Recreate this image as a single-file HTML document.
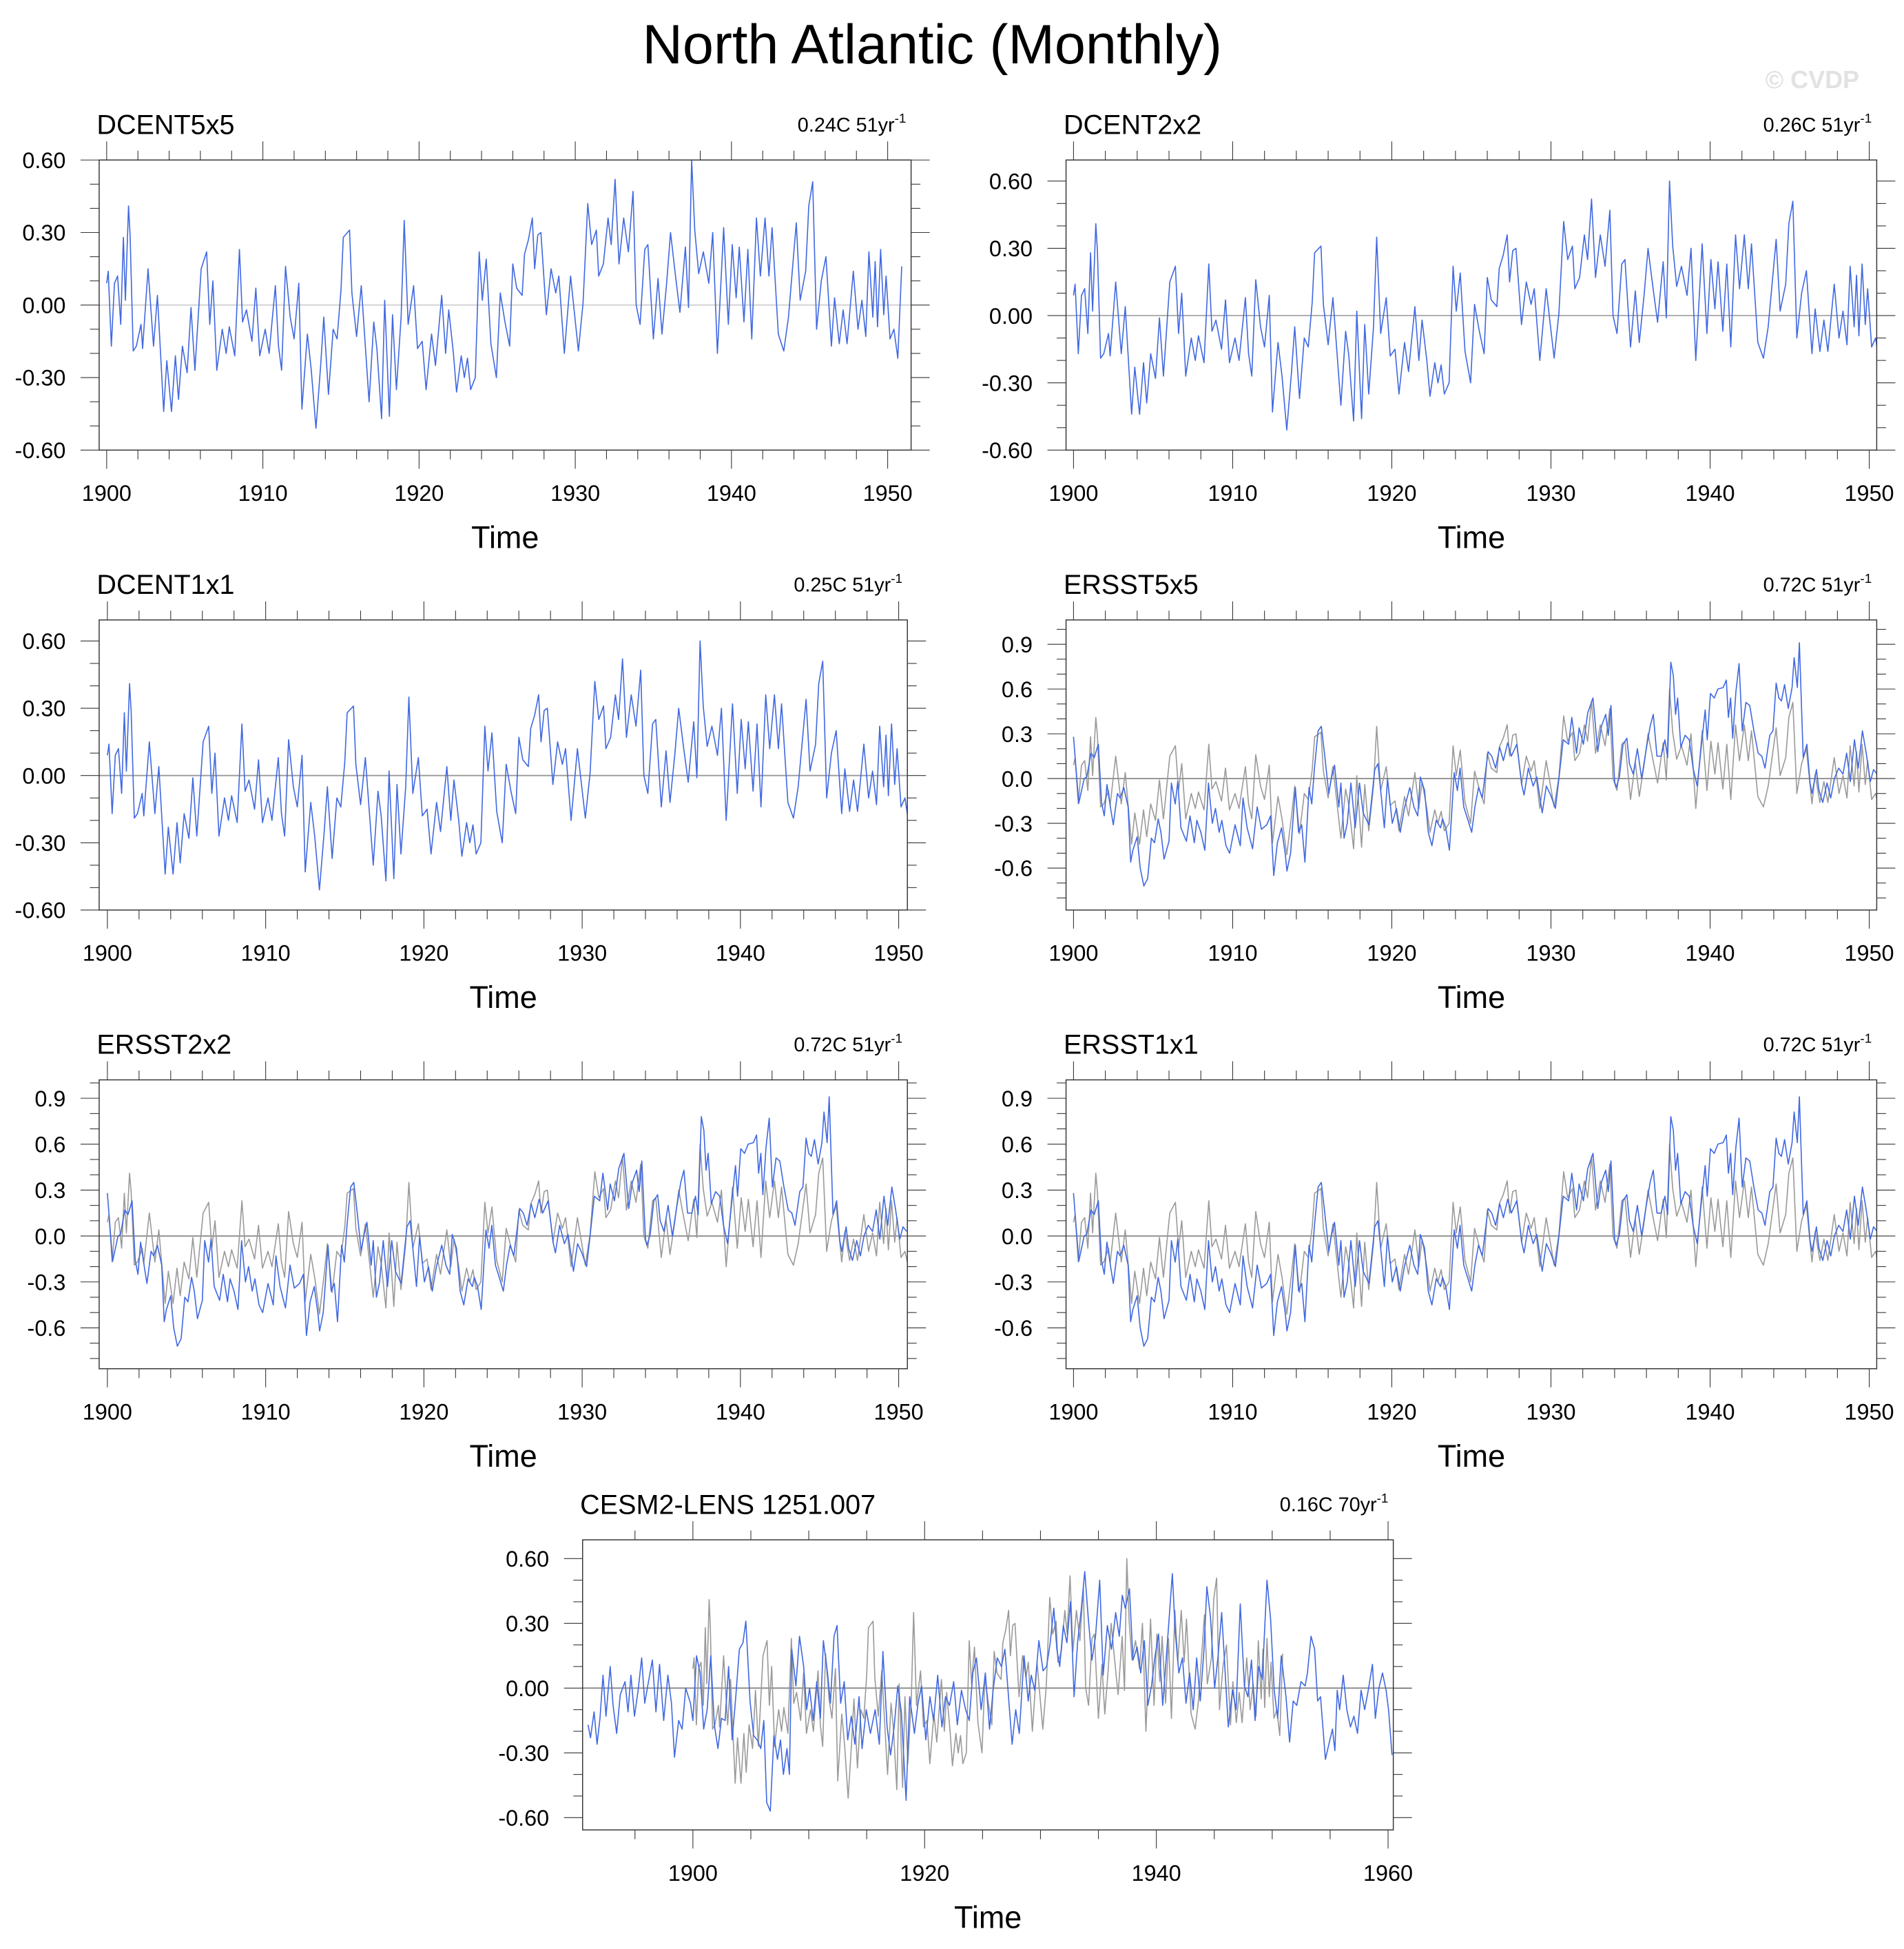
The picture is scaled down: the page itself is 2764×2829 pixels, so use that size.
<!DOCTYPE html>
<html><head><meta charset="utf-8"><title>North Atlantic (Monthly)</title>
<style>
html,body{margin:0;padding:0;background:#fff;}
svg{display:block;font-family:"Liberation Sans",Arial,sans-serif;}
</style></head>
<body>
<svg id="fig" xmlns="http://www.w3.org/2000/svg" width="2764" height="2829" viewBox="0 0 1536 1572">
<rect x="0" y="0" width="1536" height="1572" fill="#fff"/>
<text x="752" y="51" font-size="45" text-anchor="middle" fill="#000">North Atlantic (Monthly)</text>
<text x="1462" y="71" font-size="20" font-weight="bold" text-anchor="middle" fill="#e2e2e2">© CVDP</text>
<g id="panels"></g>
</svg>
<script>
// DCENT observed series (decimal year, anomaly degC)
const dcentYears = [1900.0,1900.1,1900.3,1900.5,1900.7,1900.9,1901.07,1901.2,1901.4,1901.5,
1901.7,1901.9,1902.2,1902.3,1902.65,1903.0,1903.25,1903.45,1903.65,1903.85,
1904.15,1904.4,1904.6,1904.85,1905.15,1905.4,1905.65,1906.05,1906.4,1906.6,
1906.8,1907.05,1907.4,1907.65,1907.85,1908.2,1908.5,1908.7,1908.95,1909.3,
1909.55,1909.8,1910.15,1910.4,1910.8,1911.0,1911.2,1911.45,1911.75,1912.0,
1912.3,1912.5,1912.85,1913.1,1913.4,1913.7,1913.9,1914.2,1914.5,1914.75,
1915.0,1915.15,1915.55,1915.7,1916.0,1916.3,1916.55,1916.8,1917.1,1917.3,
1917.6,1917.8,1918.1,1918.3,1918.55,1918.85,1919.05,1919.3,1919.65,1919.9,
1920.2,1920.45,1920.8,1921.05,1921.45,1921.7,1921.9,1922.2,1922.4,1922.7,
1922.9,1923.1,1923.3,1923.6,1923.85,1924.05,1924.3,1924.6,1924.95,1925.2,
1925.5,1925.8,1926.0,1926.25,1926.6,1926.75,1927.0,1927.25,1927.4,1927.6,
1927.8,1928.15,1928.45,1928.75,1928.95,1929.3,1929.7,1930.2,1930.5,1930.8,
1931.05,1931.35,1931.5,1931.8,1932.1,1932.3,1932.55,1932.8,1933.1,1933.4,
1933.7,1933.9,1934.15,1934.45,1934.65,1935.0,1935.3,1935.55,1935.85,1936.1,
1936.4,1936.7,1937.05,1937.25,1937.45,1937.65,1937.9,1938.2,1938.55,1938.8,
1939.1,1939.5,1939.8,1940.05,1940.3,1940.5,1940.8,1941.05,1941.3,1941.6,
1941.85,1942.15,1942.4,1942.6,1943.0,1943.35,1943.65,1944.15,1944.4,1944.75,
1944.95,1945.2,1945.45,1945.75,1946.05,1946.4,1946.6,1946.9,1947.15,1947.4,
1947.8,1948.1,1948.35,1948.6,1948.8,1949.05,1949.2,1949.35,1949.55,1949.75,
1949.9,1950.15,1950.4,1950.65,1950.9];
const dcentValues = [0.09,0.14,-0.17,0.09,0.12,-0.08,0.28,0.02,0.41,0.29,
-0.19,-0.17,-0.08,-0.18,0.15,-0.17,0.04,-0.2,-0.44,-0.23,
-0.44,-0.21,-0.39,-0.17,-0.28,-0.01,-0.27,0.15,0.22,-0.08,
0.10,-0.27,-0.10,-0.20,-0.09,-0.21,0.23,-0.07,-0.02,-0.15,
0.07,-0.21,-0.10,-0.20,0.08,-0.17,-0.27,0.16,-0.05,-0.14,
0.09,-0.43,-0.12,-0.27,-0.51,-0.25,-0.05,-0.37,-0.10,-0.14,
0.06,0.28,0.31,0.05,-0.13,0.08,-0.16,-0.40,-0.07,-0.18,
-0.47,0.02,-0.46,-0.04,-0.35,-0.05,0.35,-0.08,0.08,-0.18,
-0.15,-0.35,-0.12,-0.25,0.04,-0.20,-0.02,-0.20,-0.36,-0.21,
-0.30,-0.22,-0.35,-0.30,0.22,0.02,0.19,-0.16,-0.30,0.05,
-0.07,-0.17,0.17,0.07,0.04,0.21,0.27,0.36,0.15,0.29,
0.30,-0.04,0.15,0.05,0.12,-0.20,0.12,-0.19,0.01,0.42,
0.25,0.31,0.12,0.17,0.36,0.25,0.52,0.17,0.36,0.22,
0.47,0.00,-0.08,0.23,0.25,-0.14,0.11,-0.12,0.09,0.30,
0.13,-0.03,0.24,-0.01,0.60,0.31,0.13,0.22,0.09,0.30,
-0.20,0.32,-0.08,0.25,0.03,0.24,-0.07,0.23,-0.14,0.36,
0.12,0.36,0.12,0.32,-0.12,-0.19,-0.05,0.34,0.02,0.14,
0.41,0.51,-0.10,0.10,0.20,-0.17,0.03,-0.16,-0.02,-0.16,
0.14,-0.10,0.02,-0.13,0.22,-0.05,0.18,-0.09,0.23,-0.04,
0.12,-0.14,-0.10,-0.22,0.16];

// ERSST observed series
const ersstYears = [1900.0,1900.33,1900.67,1900.83,1901.1,1901.3,1901.56,1901.76,1901.93,1902.1,
1902.33,1902.5,1902.76,1902.93,1903.16,1903.43,1903.59,1903.73,1904.0,1904.19,
1904.42,1904.66,1904.89,1905.09,1905.32,1905.49,1905.69,1906.0,1906.15,1906.39,
1906.55,1906.75,1907.09,1907.32,1907.59,1907.75,1908.0,1908.25,1908.48,1908.72,
1908.92,1909.15,1909.32,1909.58,1909.81,1910.15,1910.48,1910.65,1910.91,1911.25,
1911.54,1911.81,1912.14,1912.38,1912.58,1912.81,1913.07,1913.31,1913.41,1913.64,
1913.94,1914.14,1914.34,1914.54,1914.8,1914.97,1915.14,1915.37,1915.57,1915.8,
1916.04,1916.2,1916.4,1916.67,1916.8,1917.0,1917.2,1917.43,1917.7,1917.97,
1918.2,1918.56,1918.93,1919.13,1919.33,1919.53,1919.73,1920.03,1920.29,1920.53,
1920.79,1921.13,1921.39,1921.63,1921.79,1922.06,1922.29,1922.52,1922.79,1923.06,
1923.19,1923.39,1923.62,1923.92,1924.12,1924.29,1924.52,1924.79,1925.02,1925.22,
1925.45,1925.68,1926.05,1926.28,1926.52,1926.78,1927.01,1927.28,1927.51,1927.85,
1928.18,1928.31,1928.58,1928.88,1929.11,1929.45,1929.71,1929.98,1930.28,1930.51,
1930.77,1931.11,1931.31,1931.61,1931.77,1932.04,1932.31,1932.64,1932.94,1933.17,
1933.44,1933.6,1933.77,1934.0,1934.1,1934.3,1934.53,1934.77,1934.93,1935.17,
1935.43,1935.7,1935.96,1936.23,1936.43,1936.66,1936.93,1937.16,1937.33,1937.53,
1937.69,1937.83,1937.96,1938.16,1938.43,1938.69,1938.93,1939.19,1939.49,1939.69,
1939.82,1940.02,1940.26,1940.49,1940.82,1941.02,1941.15,1941.29,1941.42,1941.62,
1941.82,1942.02,1942.25,1942.49,1942.75,1943.02,1943.25,1943.45,1943.75,1943.95,
1944.15,1944.32,1944.48,1944.68,1944.91,1945.15,1945.28,1945.48,1945.61,1945.85,
1946.08,1946.28,1946.41,1946.68,1946.84,1947.08,1947.35,1947.58,1947.81,1948.08,
1948.35,1948.58,1948.81,1949.07,1949.31,1949.57,1949.81,1950.07,1950.27,1950.5];
const ersstValues = [0.28,-0.165,0,0.01,0.17,0.14,0.23,-0.16,-0.25,-0.04,
-0.2,-0.31,-0.1,-0.13,-0.06,-0.19,-0.56,-0.48,-0.39,-0.6,
-0.72,-0.67,-0.4,-0.43,-0.27,-0.36,-0.54,-0.42,-0.03,-0.17,
-0.02,-0.33,-0.42,-0.25,-0.43,-0.28,-0.36,-0.48,-0.03,-0.3,
-0.2,-0.36,-0.28,-0.45,-0.5,-0.31,-0.45,-0.13,-0.33,-0.47,
-0.19,-0.34,-0.31,-0.25,-0.65,-0.43,-0.33,-0.51,-0.62,-0.5,
-0.06,-0.36,-0.31,-0.56,-0.06,-0.17,0.07,0.32,0.35,0.14,
-0.1,0,0.09,-0.19,-0.03,-0.4,-0.3,-0.03,-0.33,-0.03,
-0.23,-0.31,0.06,0.1,-0.11,-0.33,0,-0.3,-0.2,-0.36,
-0.2,-0.06,-0.19,-0.25,0.01,-0.08,-0.36,-0.45,-0.28,-0.33,
-0.27,-0.33,-0.48,0.04,-0.08,0.07,-0.19,-0.28,-0.36,-0.19,
-0.06,-0.13,0.18,0.15,0.07,0.21,0.12,0.24,0.15,0.23,
-0.05,-0.11,0.07,-0.05,0.01,-0.23,-0.05,-0.11,-0.2,0.01,
0.26,0.23,0.41,0.17,0.34,0.23,0.44,0.54,0.18,0.35,
0.43,0.29,0.49,-0.02,-0.06,0.01,0.23,0.27,0.1,0.03,
0.2,0,0.18,0.35,0.43,0.15,0.15,0.26,0.14,0.78,
0.69,0.43,0.54,0.21,0.29,0.26,0.07,-0.05,0.26,0.46,
0.26,0.57,0.54,0.6,0.61,0.66,0.41,0.54,0.27,0.58,
0.77,0.32,0.51,0.49,0.32,0.17,0.15,0.07,0.29,0.32,
0.64,0.54,0.52,0.63,0.47,0.61,0.81,0.61,0.91,0.14,
0.23,-0.03,-0.1,0.06,-0.08,-0.16,-0.03,-0.13,0,0.07,
0.03,0.17,-0.02,0.26,0.07,0.32,0.17,-0.02,0.06,0.03];

// CESM2-LENS member 1251.007
const cesmYears = [1890.95,1891.16,1891.47,1891.73,1891.98,1892.24,1892.5,1892.86,1893.11,1893.42,
1893.73,1894.14,1894.4,1894.65,1894.96,1895.27,1895.58,1895.84,1896.2,1896.5,
1896.81,1897.12,1897.48,1897.84,1898.15,1898.41,1898.77,1899.07,1899.38,1899.79,
1900,1900.31,1900.62,1900.93,1901.23,1901.54,1901.85,1902.16,1902.47,1902.78,
1903.08,1903.39,1903.7,1904.01,1904.32,1904.57,1904.93,1905.24,1905.55,1905.86,
1906.12,1906.37,1906.68,1906.99,1907.3,1907.56,1907.81,1908.12,1908.33,1908.53,
1908.89,1909.2,1909.56,1909.82,1910.07,1910.38,1910.69,1911.0,1911.26,1911.62,
1911.87,1912.18,1912.44,1912.75,1913.06,1913.36,1913.67,1913.98,1914.34,1914.6,
1914.96,1915.32,1915.73,1916.09,1916.4,1916.76,1917.06,1917.37,1917.68,1917.99,
1918.4,1918.71,1919.12,1919.43,1919.74,1920.1,1920.46,1920.77,1921.13,1921.49,
1921.8,1922.15,1922.51,1922.82,1923.18,1923.54,1923.85,1924.16,1924.47,1924.88,
1925.24,1925.6,1925.91,1926.27,1926.63,1926.93,1927.24,1927.55,1927.86,1928.17,
1928.58,1928.94,1929.2,1929.5,1929.86,1930.22,1930.53,1930.84,1931.15,1931.41,
1931.66,1931.97,1932.28,1932.59,1932.9,1933.2,1933.51,1933.82,1934.13,1934.44,
1934.75,1935.11,1935.41,1935.77,1936.13,1936.49,1936.8,1937.06,1937.32,1937.68,
1937.98,1938.34,1938.65,1938.96,1939.27,1939.58,1939.89,1940.19,1940.55,1940.91,
1941.38,1941.63,1941.94,1942.25,1942.56,1942.87,1943.18,1943.48,1943.79,1944.1,
1944.36,1944.67,1945.03,1945.33,1945.64,1945.95,1946.21,1946.57,1946.88,1947.24,
1947.6,1947.9,1948.21,1948.52,1948.83,1949.14,1949.55,1949.86,1950.17,1950.47,
1950.78,1951.19,1951.5,1951.81,1952.12,1952.48,1952.84,1953.04,1953.35,1953.66,
1953.92,1954.17,1954.59,1954.89,1955.2,1955.41,1955.61,1955.82,1956.13,1956.44,
1956.75,1957.05,1957.36,1957.67,1957.98,1958.29,1958.65,1958.9,1959.21,1959.52,
1959.83,1960.04,1960.34];
const cesmValues = [-0.17,-0.23,-0.11,-0.26,-0.14,0.06,-0.13,0.1,-0.08,-0.21,
-0.03,0.03,-0.11,0.06,-0.13,-0.01,0.14,-0.07,0.04,0.13,
-0.11,0.11,-0.15,0.06,-0.07,-0.32,-0.15,-0.19,0,-0.07,
-0.15,0.15,0.07,-0.19,-0.1,0.15,-0.17,-0.28,-0.14,-0.15,
0.1,-0.24,-0.04,0.18,0.21,0.31,-0.06,-0.22,-0.24,-0.28,
-0.15,-0.53,-0.57,-0.22,-0.33,-0.24,-0.4,-0.28,-0.4,0.18,
0.01,0.24,0.1,-0.1,0,-0.15,0.03,-0.14,0.22,0.07,
-0.07,0.24,0.29,-0.07,0.03,-0.24,-0.13,-0.26,-0.04,-0.28,
-0.1,-0.21,-0.1,-0.26,0.17,-0.18,-0.31,-0.18,0.01,-0.11,
-0.52,-0.04,-0.21,-0.07,0.01,-0.24,-0.04,-0.15,0.06,-0.18,
-0.04,-0.08,0.03,-0.17,-0.01,-0.1,-0.15,0.07,0.14,-0.1,
0.07,-0.19,-0.01,0.14,0.1,0.18,-0.04,-0.26,-0.1,-0.21,
0.15,-0.06,0.06,-0.01,0.22,0.08,0.1,0.21,0.37,0.18,
0.1,0.29,0.21,0.4,-0.04,0.21,0.36,0.54,0.32,0.13,
0.24,0.5,0.06,0.29,0.18,0.35,0.24,0.43,0.37,0.46,
0.13,0.19,0.07,0.22,-0.08,0.01,0.15,0.25,-0.08,0.18,
0.53,0.26,0.07,0.14,-0.07,0.07,-0.1,0.14,-0.06,0.17,
0.47,0.33,0,0.15,0.35,0.06,-0.18,-0.01,-0.1,0.39,
0.01,-0.04,0.13,-0.15,0.1,0.04,0.5,0.32,-0.01,-0.14,
0.15,-0.04,-0.25,-0.06,-0.08,0.03,0.01,0.07,0.24,0.18,
-0.06,-0.04,-0.33,-0.26,-0.19,-0.29,-0.01,-0.1,0.06,-0.1,
-0.18,-0.13,-0.21,-0.01,-0.1,-0.01,0.11,-0.14,0,0.07,
-0.01,-0.1,-0.31];

// Panel titles and trend annotations
const panelTitles = ["DCENT5x5","DCENT2x2","DCENT1x1","ERSST5x5","ERSST2x2","ERSST1x1","CESM2-LENS 1251.007"];
const trendTexts = ["0.24C 51yr","0.26C 51yr","0.25C 51yr","0.72C 51yr","0.72C 51yr","0.72C 51yr","0.16C 70yr"];
const decadeTicks = [1900,1910,1920,1930,1940,1950];
const cesmTicks = [1900,1920,1940,1960];
const dcentYTicks = [-0.6,-0.3,0,0.3,0.6];
const ersstYTicks = [-0.6,-0.3,0,0.3,0.6,0.9];

const BLUE = "#4169e1", GRAY = "#9a9a9a";
const NS = "http://www.w3.org/2000/svg";
const root = document.getElementById("panels");

// layout (pixel boxes in viewBox units) and axis limits per panel
const panels = [
  {box:[80,129,735,363], xr:[1899.52,1951.5], yr:[-0.6,0.6], yt:dcentYTicks, dec:2, xt:decadeTicks, minorX:2, series:[["dcent",BLUE]], zc:"#cfcfcf"},
  {box:[860,129,1514,363], xr:[1899.53,1950.47], yr:[-0.6,0.694], yt:dcentYTicks, dec:2, xt:decadeTicks, minorX:2, series:[["dcent",BLUE]], zc:"#aaaaaa"},
  {box:[80,500,732,734], xr:[1899.48,1950.55], yr:[-0.6,0.694], yt:dcentYTicks, dec:2, xt:decadeTicks, minorX:2, series:[["dcent",BLUE]], zc:"#999999"},
  {box:[860,500,1514,734], xr:[1899.53,1950.47], yr:[-0.881,1.063], yt:ersstYTicks, dec:1, xt:decadeTicks, minorX:2, series:[["dcent",GRAY],["ersst",BLUE]], zc:"#888888"},
  {box:[80,871,732,1104], xr:[1899.48,1950.55], yr:[-0.867,1.02], yt:ersstYTicks, dec:1, xt:decadeTicks, minorX:2, series:[["dcent",GRAY],["ersst",BLUE]], zc:"#888888"},
  {box:[860,871,1514,1104], xr:[1899.53,1950.47], yr:[-0.867,1.02], yt:ersstYTicks, dec:1, xt:decadeTicks, minorX:2, series:[["dcent",GRAY],["ersst",BLUE]], zc:"#888888"},
  {box:[470,1242,1124,1476], xr:[1890.48,1960.45], yr:[-0.657,0.687], yt:dcentYTicks, dec:2, xt:cesmTicks, minorX:5, series:[["dcent",GRAY],["cesm",BLUE]], zc:"#888888"}
];
const seriesData = {
  dcent:[dcentYears,dcentValues],
  ersst:[ersstYears,ersstValues],
  cesm:[cesmYears,cesmValues]
};

function mk(tag, attrs, parent){
  const e = document.createElementNS(NS, tag);
  for (const k in attrs) e.setAttribute(k, attrs[k]);
  parent.appendChild(e);
  return e;
}

panels.forEach((p, i) => {
  const [x0,y0,x1,y1] = p.box;
  const xs = t => x0 + (t - p.xr[0]) / (p.xr[1] - p.xr[0]) * (x1 - x0);
  const ys = v => y1 - (v - p.yr[0]) / (p.yr[1] - p.yr[0]) * (y1 - y0);
  const g = mk("g", {}, root);
  
  

  const clipId = "clip" + i;
  const cp = mk("clipPath", {id:clipId}, g);
  mk("rect", {x:x0, y:y0, width:x1-x0, height:y1-y0}, cp);

  const zl = mk("line", {x1:x0, x2:x1, y1:ys(0), y2:ys(0), stroke:p.zc, "stroke-width":1}, g);
  
  

  p.series.forEach(([key, color]) => {
    const [ts, vs] = seriesData[key];
    const n = Math.min(ts.length, vs.length);
    let d = "";
    for (let k = 0; k < n; k++) d += (k ? "L" : "M") + xs(ts[k]).toFixed(2) + " " + ys(vs[k]).toFixed(2);
    const path = mk("path", {d:d, fill:"none", stroke:color, "stroke-width":0.9, "stroke-linejoin":"round", "clip-path":"url(#"+clipId+")"}, g);
    
    
  });

  const fr = mk("rect", {x:x0, y:y0, width:x1-x0, height:y1-y0, fill:"none", stroke:"#333", "stroke-width":0.8}, g);
  
  

  const tg = mk("g", {stroke:"#333", "stroke-width":0.6}, g);
  
  
  const MAJ = 15, MIN = 7.5;
  const xStart = Math.ceil(p.xr[0] / p.minorX) * p.minorX;
  for (let t = xStart; t <= p.xr[1] + 1e-6; t += p.minorX) {
    const isMaj = p.xt.indexOf(t) >= 0;
    const L = isMaj ? MAJ : MIN, x = xs(t);
    mk("line", {x1:x, x2:x, y1:y0, y2:y0 - L}, tg);
    mk("line", {x1:x, x2:x, y1:y1, y2:y1 + L}, tg);
  }
  for (let k = Math.ceil(p.yr[0] * 10 - 1e-6); k <= Math.floor(p.yr[1] * 10 + 1e-6); k++) {
    const v = k / 10;
    const isMaj = Math.abs(k % 3) === 0;
    const L = isMaj ? MAJ : MIN, y = ys(v);
    mk("line", {x1:x0, x2:x0 - L, y1:y, y2:y}, tg);
    mk("line", {x1:x1, x2:x1 + L, y1:y, y2:y}, tg);
  }

  p.yt.forEach(v => {
    const tx = mk("text", {x:x0 - 27, y:ys(v) + 6.5, "font-size":18, "text-anchor":"end", fill:"#000"}, g);
    tx.textContent = v.toFixed(p.dec);
    
    
  });
  p.xt.forEach(t => {
    const tx = mk("text", {x:xs(t), y:y1 + 41, "font-size":18, "text-anchor":"middle", fill:"#000"}, g);
    tx.textContent = String(t);
    
    
  });
  const at = mk("text", {x:(x0 + x1) / 2, y:y1 + 79, "font-size":25, "text-anchor":"middle", fill:"#000"}, g);
  at.textContent = "Time";
  
  
  const pt = mk("text", {x:x0 - 2, y:y0 - 21, "font-size":22, fill:"#000"}, g);
  pt.textContent = panelTitles[i];
  
  
  const tr = mk("text", {x:x1 - 4, y:y0 - 23, "font-size":16, "text-anchor":"end", fill:"#000"}, g);
  
  
  const s1 = mk("tspan", {}, tr);
  s1.textContent = trendTexts[i];
  const s2 = mk("tspan", {"font-size":10.5, dy:-7}, tr);
  s2.textContent = "-1";
});
</script>
</body></html>
